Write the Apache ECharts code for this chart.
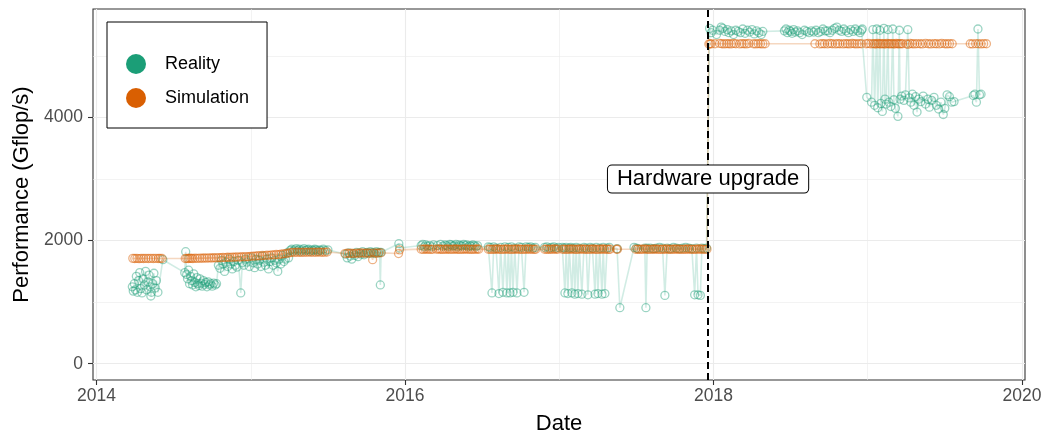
<!DOCTYPE html>
<html>
<head>
<meta charset="utf-8">
<script src="https://cdn.jsdelivr.net/npm/echarts@6/dist/echarts.min.js"></script>
<style>
html,body{margin:0;padding:0;background:#fff;}
#chart{width:1051px;height:436px;}
</style>
</head>
<body>
<div id="chart"></div>
<script>
// ---- data (decimal year, Gflop/s) ----
const realityData = [
[2014.232,1250],[2014.238,1180],[2014.245,1300],[2014.252,1200],[2014.258,1420],[2014.265,1160],[2014.272,1350],[2014.280,1480],
[2014.287,1220],[2014.295,1150],[2014.302,1380],[2014.310,1280],[2014.318,1500],[2014.325,1200],[2014.333,1330],[2014.340,1440],
[2014.348,1250],[2014.352,1100],[2014.356,1160],[2014.364,1300],[2014.372,1470],[2014.380,1230],[2014.388,1350],[2014.398,1160],
[2014.430,1690],
[2014.572,1480],[2014.578,1820],[2014.584,1450],[2014.590,1380],[2014.597,1520],[2014.603,1300],[2014.610,1420],[2014.617,1350],
[2014.623,1280],[2014.630,1460],[2014.637,1320],[2014.644,1250],[2014.650,1400],[2014.657,1300],[2014.664,1270],[2014.671,1380],
[2014.678,1310],[2014.685,1260],[2014.692,1350],[2014.700,1290],[2014.708,1320],[2014.716,1250],[2014.724,1330],[2014.732,1280],
[2014.740,1300],[2014.750,1260],[2014.760,1310],[2014.770,1280],[2014.778,1300],
[2014.790,1600],[2014.800,1550],[2014.810,1680],[2014.820,1620],[2014.830,1500],[2014.840,1650],[2014.850,1580],[2014.860,1700],
[2014.870,1620],[2014.880,1540],[2014.890,1660],[2014.900,1600],[2014.910,1570],[2014.920,1680],[2014.935,1150],[2014.945,1640],
[2014.955,1600],[2014.965,1700],[2014.975,1650],[2014.990,1580],
[2015.005,1720],[2015.015,1640],[2015.025,1560],[2015.035,1700],[2015.045,1620],[2015.055,1680],[2015.065,1580],[2015.075,1750],
[2015.085,1650],[2015.095,1600],[2015.105,1700],[2015.115,1540],[2015.125,1660],[2015.135,1720],[2015.145,1600],[2015.155,1680],
[2015.165,1640],[2015.175,1500],[2015.185,1700],[2015.195,1620],[2015.205,1760],[2015.215,1660],[2015.225,1700],[2015.235,1800],
[2015.245,1720],
[2015.255,1840],[2015.265,1860],[2015.275,1830],[2015.285,1850],[2015.295,1870],[2015.305,1840],[2015.315,1860],[2015.325,1830],
[2015.335,1850],[2015.345,1870],[2015.355,1840],[2015.365,1850],[2015.375,1860],[2015.385,1830],[2015.395,1850],[2015.405,1840],
[2015.415,1860],[2015.425,1850],[2015.435,1830],[2015.445,1850],[2015.455,1840],[2015.470,1860],[2015.485,1840],[2015.500,1850],
[2015.615,1780],[2015.625,1720],[2015.635,1800],[2015.645,1750],[2015.655,1700],[2015.665,1790],[2015.675,1760],[2015.685,1810],
[2015.695,1740],[2015.705,1800],[2015.715,1780],[2015.725,1820],[2015.735,1770],[2015.745,1800],[2015.755,1810],[2015.765,1790],
[2015.775,1820],[2015.785,1800],[2015.795,1810],[2015.805,1790],[2015.815,1820],[2015.825,1800],[2015.835,1810],[2015.840,1280],
[2015.845,1810],
[2015.960,1950],[2015.965,1880],
[2016.105,1920],[2016.115,1940],[2016.125,1900],[2016.135,1930],[2016.145,1910],[2016.160,1920],[2016.175,1900],[2016.185,1930],
[2016.210,1920],[2016.230,1940],[2016.245,1910],[2016.260,1930],[2016.270,1920],[2016.280,1900],[2016.290,1940],[2016.300,1930],
[2016.310,1910],[2016.320,1920],[2016.330,1940],[2016.340,1900],[2016.350,1930],[2016.360,1920],[2016.370,1910],[2016.380,1940],
[2016.390,1920],[2016.400,1930],[2016.410,1900],[2016.420,1920],[2016.430,1910],[2016.440,1930],[2016.450,1920],[2016.460,1900],
[2016.470,1920],
[2016.540,1900],[2016.552,1890],[2016.564,1150],[2016.575,1900],[2016.590,1880],[2016.609,1140],[2016.620,1890],[2016.635,1160],
[2016.648,1900],[2016.661,1150],[2016.670,1890],[2016.681,1150],[2016.690,1900],[2016.700,1160],[2016.712,1880],[2016.726,1150],
[2016.740,1900],[2016.755,1890],[2016.772,1160],[2016.785,1900],[2016.800,1890],[2016.815,1900],[2016.830,1880],[2016.845,1890],
[2016.905,1890],[2016.920,1900],[2016.935,1880],[2016.950,1890],[2016.965,1900],[2016.980,1880],[2016.995,1890],
[2017.020,1890],[2017.030,1880],[2017.037,1150],[2017.045,1890],[2017.056,1140],[2017.065,1880],[2017.075,1890],[2017.082,1150],
[2017.092,1880],[2017.101,1130],[2017.110,1890],[2017.121,1140],[2017.130,1880],[2017.147,1130],[2017.160,1890],[2017.175,1880],
[2017.186,1120],[2017.200,1890],[2017.215,1880],[2017.232,1130],[2017.240,1890],[2017.251,1140],[2017.262,1880],[2017.277,1130],
[2017.285,1890],[2017.296,1140],[2017.310,1880],[2017.325,1890],
[2017.375,1870],[2017.393,910],
[2017.485,1890],[2017.500,1880],[2017.510,1870],[2017.555,1880],[2017.562,910],[2017.570,1880],[2017.590,1880],[2017.610,1870],
[2017.630,1880],[2017.650,1890],[2017.670,1880],[2017.685,1110],[2017.700,1880],[2017.720,1870],[2017.740,1890],[2017.760,1880],
[2017.780,1870],[2017.800,1880],[2017.820,1890],[2017.840,1880],[2017.860,1870],[2017.878,1120],[2017.890,1880],[2017.900,1120],
[2017.915,1110],[2017.925,1880],[2017.940,1870],[2017.955,1880],
[2017.975,5450],[2017.985,5380],[2017.995,5420],[2018.020,5350],[2018.040,5420],[2018.050,5470],[2018.060,5450],[2018.075,5400],
[2018.090,5430],[2018.100,5380],[2018.115,5410],[2018.130,5350],[2018.145,5420],[2018.160,5400],[2018.175,5380],[2018.190,5440],
[2018.205,5370],[2018.220,5420],[2018.235,5390],[2018.250,5430],[2018.265,5360],[2018.280,5410],[2018.295,5380],[2018.310,5350],
[2018.320,5400],
[2018.460,5410],[2018.470,5440],[2018.480,5380],[2018.490,5420],[2018.500,5400],[2018.510,5370],[2018.520,5430],[2018.530,5390],
[2018.545,5410],[2018.560,5380],[2018.575,5350],[2018.590,5420],[2018.605,5400],[2018.620,5380],[2018.635,5410],[2018.650,5390],
[2018.665,5420],[2018.680,5380],[2018.695,5400],[2018.710,5440],[2018.725,5410],[2018.740,5410],[2018.755,5380],[2018.770,5420],
[2018.785,5450],[2018.800,5470],[2018.815,5420],[2018.830,5400],[2018.845,5440],[2018.860,5410],[2018.875,5380],[2018.890,5430],
[2018.905,5400],[2018.920,5440],[2018.935,5410],[2018.950,5380],[2018.960,5420],[2018.965,5440],
[2018.994,4330],[2019.025,4250],[2019.034,5430],[2019.045,4200],[2019.059,5440],[2019.065,4160],[2019.079,5420],[2019.085,4230],
[2019.095,4100],[2019.105,5450],[2019.112,4300],[2019.120,4220],[2019.131,5430],[2019.138,4250],[2019.150,4180],[2019.163,5440],
[2019.170,4290],[2019.180,4150],[2019.196,4020],[2019.205,5420],[2019.210,4300],[2019.220,4350],[2019.235,4280],[2019.245,4370],
[2019.260,5430],[2019.270,4320],[2019.280,4250],[2019.290,4380],[2019.300,4200],[2019.310,4340],[2019.320,4090],[2019.330,4300],
[2019.345,4260],[2019.360,4350],[2019.375,4220],[2019.390,4300],[2019.400,4170],[2019.415,4280],[2019.430,4330],[2019.445,4200],
[2019.460,4140],[2019.475,4250],[2019.490,4050],[2019.500,4150],[2019.515,4370],[2019.530,4340],[2019.545,4250],[2019.560,4260],
[2019.685,4360],[2019.695,4380],[2019.705,4250],[2019.715,5440],[2019.725,4370],[2019.735,4380]
];
const simulationData = [
[2014.235,1712],[2014.248,1710],[2014.262,1712],[2014.276,1708],[2014.290,1712],[2014.305,1710],[2014.320,1712],[2014.336,1710],
[2014.352,1712],[2014.368,1710],[2014.384,1712],[2014.400,1710],[2014.412,1712],[2014.425,1710],
[2014.575,1710],[2014.585,1712],[2014.595,1710],[2014.605,1714],[2014.615,1712],[2014.625,1710],[2014.640,1714],[2014.655,1712],
[2014.670,1716],[2014.685,1714],[2014.700,1718],[2014.715,1716],[2014.730,1720],[2014.745,1718],[2014.760,1722],[2014.775,1720],
[2014.790,1725],[2014.805,1722],[2014.820,1728],[2014.835,1725],[2014.850,1730],[2014.865,1728],[2014.880,1732],[2014.895,1730],
[2014.910,1735],[2014.925,1732],[2014.940,1738],[2014.955,1735],[2014.970,1740],[2014.985,1738],
[2015.000,1745],[2015.015,1750],[2015.030,1748],[2015.045,1755],[2015.060,1752],[2015.075,1760],[2015.090,1758],[2015.105,1765],
[2015.120,1762],[2015.135,1770],[2015.150,1768],[2015.165,1775],[2015.180,1772],[2015.195,1780],[2015.210,1785],[2015.225,1790],
[2015.240,1795],
[2015.255,1805],[2015.270,1810],[2015.285,1808],[2015.300,1812],[2015.315,1810],[2015.330,1808],[2015.345,1812],[2015.360,1810],
[2015.375,1815],[2015.390,1810],[2015.405,1812],[2015.420,1810],[2015.435,1815],[2015.450,1812],[2015.465,1810],[2015.480,1812],
[2015.495,1815],
[2015.610,1790],[2015.625,1795],[2015.640,1792],[2015.655,1795],[2015.670,1790],[2015.685,1798],[2015.700,1795],[2015.715,1800],
[2015.730,1798],[2015.745,1795],[2015.760,1800],[2015.775,1798],[2015.790,1690],[2015.800,1800],[2015.815,1798],[2015.830,1800],
[2015.845,1802],
[2015.958,1790],[2015.965,1850],
[2016.105,1862],[2016.118,1858],[2016.130,1864],[2016.142,1860],[2016.155,1862],[2016.168,1858],[2016.180,1862],[2016.205,1860],
[2016.218,1864],[2016.230,1860],[2016.242,1858],[2016.255,1862],[2016.268,1860],[2016.280,1864],[2016.292,1858],[2016.305,1862],
[2016.318,1860],[2016.330,1864],[2016.342,1860],[2016.355,1858],[2016.368,1862],[2016.380,1860],[2016.392,1864],[2016.405,1860],
[2016.418,1862],[2016.430,1858],[2016.442,1862],[2016.455,1860],[2016.468,1864],[2016.478,1860],
[2016.540,1860],[2016.552,1862],[2016.564,1858],[2016.576,1862],[2016.588,1860],[2016.600,1864],[2016.612,1860],[2016.625,1858],
[2016.638,1862],[2016.650,1860],[2016.662,1864],[2016.675,1860],[2016.688,1858],[2016.700,1862],[2016.712,1860],[2016.725,1864],
[2016.738,1860],[2016.750,1862],[2016.762,1858],[2016.775,1862],[2016.788,1860],[2016.800,1864],[2016.812,1860],[2016.825,1862],
[2016.838,1858],[2016.848,1862],
[2016.905,1860],[2016.918,1862],[2016.930,1858],[2016.942,1862],[2016.955,1860],[2016.968,1864],[2016.980,1860],[2016.992,1862],
[2017.020,1860],[2017.032,1862],[2017.045,1858],[2017.058,1862],[2017.070,1860],[2017.082,1864],[2017.095,1860],[2017.108,1858],
[2017.120,1862],[2017.132,1860],[2017.145,1864],[2017.158,1860],[2017.170,1862],[2017.182,1858],[2017.195,1862],[2017.208,1860],
[2017.220,1864],[2017.232,1860],[2017.245,1858],[2017.258,1862],[2017.270,1860],[2017.282,1864],[2017.295,1860],[2017.308,1862],
[2017.320,1858],[2017.330,1862],
[2017.372,1860],[2017.378,1862],
[2017.495,1860],[2017.508,1862],[2017.520,1858],[2017.532,1862],[2017.545,1860],[2017.558,1864],[2017.570,1860],[2017.582,1858],
[2017.595,1862],[2017.608,1860],[2017.620,1864],[2017.632,1860],[2017.645,1862],[2017.658,1858],[2017.670,1862],[2017.682,1860],
[2017.695,1864],[2017.708,1860],[2017.720,1858],[2017.732,1862],[2017.745,1860],[2017.758,1864],[2017.770,1860],[2017.782,1862],
[2017.795,1858],[2017.808,1862],[2017.820,1860],[2017.832,1864],[2017.845,1860],[2017.858,1862],[2017.870,1858],[2017.882,1862],
[2017.895,1860],[2017.908,1864],[2017.920,1860],[2017.932,1862],[2017.945,1858],[2017.958,1862],
[2017.970,5195],[2017.978,5200],[2017.985,5198],[2018.010,5200],[2018.040,5205],[2018.055,5200],[2018.070,5198],[2018.085,5202],
[2018.100,5200],[2018.115,5198],[2018.130,5205],[2018.145,5200],[2018.170,5198],[2018.185,5202],[2018.200,5200],[2018.215,5198],
[2018.230,5205],[2018.260,5200],[2018.275,5198],[2018.290,5202],[2018.305,5200],[2018.320,5198],[2018.335,5200],
[2018.658,5200],[2018.690,5198],[2018.705,5202],[2018.720,5200],[2018.740,5198],[2018.755,5205],[2018.770,5200],[2018.790,5198],
[2018.805,5202],[2018.820,5200],[2018.840,5198],[2018.855,5202],[2018.870,5200],[2018.885,5198],[2018.900,5205],[2018.915,5200],
[2018.930,5198],[2018.945,5202],[2018.960,5200],
[2018.990,5200],[2019.005,5205],[2019.020,5198],[2019.035,5202],[2019.045,5200],[2019.055,5195],[2019.065,5205],[2019.075,5200],
[2019.085,5198],[2019.095,5202],[2019.105,5200],[2019.115,5195],[2019.125,5205],[2019.135,5200],[2019.145,5198],[2019.155,5202],
[2019.165,5200],[2019.175,5195],[2019.185,5205],[2019.195,5200],[2019.205,5198],[2019.215,5202],[2019.225,5200],
[2019.250,5200],[2019.262,5190],[2019.275,5205],[2019.290,5200],[2019.305,5198],[2019.320,5202],[2019.340,5200],[2019.355,5198],
[2019.375,5205],[2019.395,5200],[2019.410,5198],[2019.430,5202],[2019.445,5200],[2019.465,5198],[2019.480,5205],[2019.500,5200],
[2019.515,5198],[2019.530,5202],[2019.548,5200],
[2019.665,5200],[2019.680,5198],[2019.700,5202],[2019.718,5200],[2019.735,5198],[2019.752,5202],[2019.770,5200]
];
const xMajorTicks = [2014, 2016, 2018, 2020];
const xMinorTicks = [2015, 2017, 2019];
const yMajorTicks = [0, 2000, 4000];
const yMinorTicks = [1000, 3000, 5000];
const upgradeDate = 2017.965;
const upgradeLabelY = 3000;
const upgradeLabel = 'Hardware upgrade';

const FONT = '"Liberation Sans", Arial, Helvetica, sans-serif';
const GREEN = '#1B9E77', ORANGE = '#D95F02';

const chart = echarts.init(document.getElementById('chart'), null, {renderer: 'canvas'});

const gridLine = (w) => ({show: true, lineStyle: {color: '#EBEBEB', width: w}});

chart.setOption({
  animation: false,
  backgroundColor: '#fff',
  textStyle: {fontFamily: FONT},
  grid: {left: 93, right: 26, top: 9, bottom: 56, show: true, backgroundColor: '#fff', borderColor: '#333333', borderWidth: 1.1, containLabel: false, outerBoundsMode: 'none'},
  legend: {
    orient: 'vertical', left: 107, top: 22,
    padding: [32, 18, 20, 19],
    itemWidth: 20, itemHeight: 20, itemGap: 14,
    borderColor: '#000', borderWidth: 1, backgroundColor: '#fff',
    selectedMode: false,
    textStyle: {fontFamily: FONT, fontSize: 18, color: '#000', padding: [0, 0, 0, 14]},
    data: [
      {name: 'Reality', icon: 'circle', itemStyle: {color: GREEN, borderWidth: 0, opacity: 1}},
      {name: 'Simulation', icon: 'circle', itemStyle: {color: ORANGE, borderWidth: 0, opacity: 1}}
    ]
  },
  xAxis: [
    {
      type: 'value', min: 2013.977, max: 2020.02,
      name: 'Date', nameLocation: 'middle', nameGap: 33,
      nameTextStyle: {fontFamily: FONT, fontSize: 22, color: '#000'},
      axisLine: {show: false, onZero: false},
      axisTick: {show: true, length: 5, lineStyle: {color: '#333333', width: 1.1}, customValues: xMajorTicks},
      axisLabel: {show: true, customValues: xMajorTicks, margin: 7, color: '#4D4D4D', fontSize: 17.5, fontFamily: FONT, formatter: v => String(Math.round(v))},
      splitLine: gridLine(1.1)
    },
    {
      type: 'value', min: 2013.977, max: 2020.02, position: 'top',
      axisLine: {show: false, onZero: false},
      axisTick: {show: false, customValues: xMinorTicks},
      axisLabel: {show: false},
      splitLine: gridLine(0.6)
    }
  ],
  yAxis: [
    {
      type: 'value', min: -265, max: 5765,
      name: 'Performance (Gflop/s)', nameLocation: 'middle', nameGap: 58, nameRotate: 90,
      nameTextStyle: {fontFamily: FONT, fontSize: 22, color: '#000'},
      axisLine: {show: false, onZero: false},
      axisTick: {show: true, length: 5, lineStyle: {color: '#333333', width: 1.1}, customValues: yMajorTicks},
      axisLabel: {show: true, customValues: yMajorTicks, margin: 10, color: '#4D4D4D', fontSize: 17.5, fontFamily: FONT, formatter: v => String(Math.round(v))},
      splitLine: gridLine(1.1)
    },
    {
      type: 'value', min: -265, max: 5765, position: 'right',
      axisLine: {show: false, onZero: false},
      axisTick: {show: false, customValues: yMinorTicks},
      axisLabel: {show: false},
      splitLine: gridLine(0.6)
    }
  ],
  series: [
    {
      name: 'Reality', type: 'scatter', data: realityData, z: 3,
      symbol: 'circle', symbolSize: 8,
      itemStyle: {color: 'rgba(0,0,0,0)', borderColor: 'rgba(27,158,119,0.55)', borderWidth: 1.3},
      silent: true, clip: true
    },
    {
      name: 'Simulation', type: 'scatter', data: simulationData, z: 4,
      symbol: 'circle', symbolSize: 8,
      itemStyle: {color: 'rgba(0,0,0,0)', borderColor: 'rgba(217,95,2,0.6)', borderWidth: 1.3},
      silent: true, clip: true
    },
    {
      name: 'Reality', type: 'line', data: realityData, z: 2, showSymbol: false, symbol: 'none',
      lineStyle: {color: 'rgba(27,158,119,0.2)', width: 1.6}, silent: true
    },
    {
      name: 'Simulation', type: 'line', data: simulationData, z: 2, showSymbol: false, symbol: 'none',
      lineStyle: {color: 'rgba(217,95,2,0.25)', width: 1.6}, silent: true
    },
    {
      name: 'upgrade', type: 'scatter', data: [[upgradeDate, upgradeLabelY]], symbolSize: 0, z: 10, silent: true,
      markLine: {
        silent: true, symbol: ['none', 'none'], animation: false,
        lineStyle: {color: '#000', type: [7, 4], width: 2},
        label: {show: false},
        data: [{xAxis: upgradeDate}]
      },
      markPoint: {
        silent: true, symbol: 'rect', symbolSize: 0, animation: false,
        label: {
          show: true, position: 'inside', formatter: upgradeLabel,
          fontFamily: FONT, fontSize: 22, color: '#000',
          backgroundColor: '#fff', borderColor: '#000', borderWidth: 1, borderRadius: 4,
          padding: [3, 9, 2, 9]
        },
        data: [{coord: [upgradeDate, upgradeLabelY]}]
      }
    }
  ]
});
</script>
</body>
</html>
